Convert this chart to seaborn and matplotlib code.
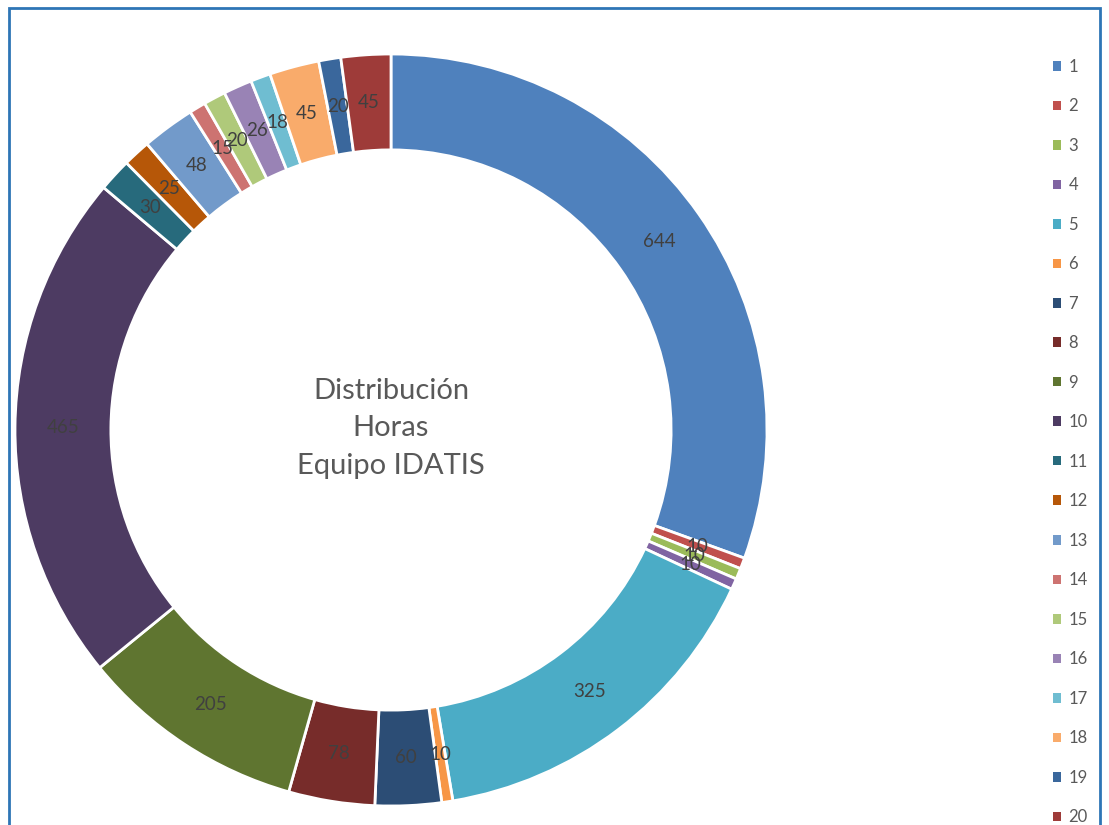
import matplotlib
matplotlib.use("Agg")
import matplotlib.pyplot as plt
import matplotlib.patches as mpatches
import seaborn as sns

# data
categories = [str(i) for i in range(1, 21)]
horas = [644, 10, 10, 10, 325, 10, 60, 78, 205, 465,
         30, 25, 48, 15, 20, 26, 18, 45, 20, 45]
colores = ["#4F81BD", "#C0504D", "#9BBB59", "#8064A2", "#4BACC6",
           "#F79646", "#2C4D75", "#772C2A", "#5F7530", "#4D3B62",
           "#276A7C", "#B65708", "#729ACA", "#CD7371", "#AFC97A",
           "#9983B5", "#6FBDD1", "#F9AB6B", "#3A679C", "#9E3B39"]
titulo = "Distribución\nHoras\nEquipo IDATIS"

sns.set_theme(style="white")
plt.rcParams["font.family"] = ["Lato", "DejaVu Sans"]

W, H = 1109, 825
fig = plt.figure(figsize=(W / 100, H / 100), dpi=100)

# pie axes: centre (391, 430) px, outer radius 376 px
cx, cy, r = 391, 430, 376
ax = fig.add_axes([(cx - r) / W, (H - cy - r) / H, 2 * r / W, 2 * r / H])

total = sum(horas)
ancho = 0.255
wedges, _, autotexts = ax.pie(
    horas, colors=colores, startangle=90, counterclock=False, radius=1,
    wedgeprops=dict(width=ancho, edgecolor="white", linewidth=2),
    autopct=lambda p: f"{round(p * total / 100)}",
    pctdistance=1 - ancho / 2,
    textprops=dict(color="#404040", fontsize=13.5))
ax.set_xlim(-1, 1)
ax.set_ylim(-1, 1)
ax.set_aspect("equal")
ax.axis("off")

ax.text(0, 0.004, titulo, ha="center", va="center", fontsize=21,
        color="#595959", linespacing=1.55)

handles = [mpatches.Patch(facecolor=c, edgecolor="none", label=l)
           for c, l in zip(colores, categories)]
fig.legend(handles=handles, loc="upper left",
           bbox_to_anchor=(1046 / W, 1 - 52 / H), frameon=False,
           fontsize=12, labelcolor="#595959", handlelength=0.5,
           handleheight=0.5, handletextpad=0.45, labelspacing=1.41,
           borderaxespad=0)

# blue frame around the chart
fig.add_artist(mpatches.Rectangle((9 / W, -0.05), (1100 - 9) / W, 1.05 - 8 / H,
                                  transform=fig.transFigure, fill=False,
                                  edgecolor="#2E75B6", linewidth=2))

fig.savefig("out.png", dpi=100)
